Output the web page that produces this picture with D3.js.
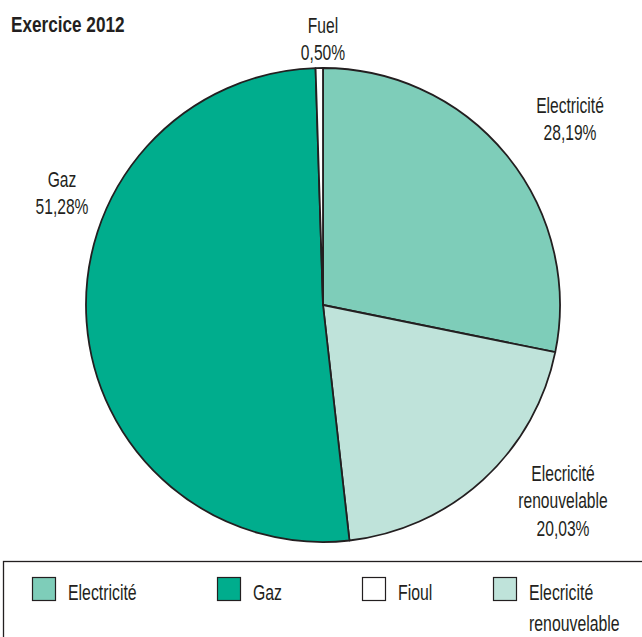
<!DOCTYPE html>
<html><head><meta charset="utf-8">
<script src="https://cdn.jsdelivr.net/npm/d3@7"></script>
<style>
body{margin:0;background:#fff;}
text{font-family:"Liberation Sans","Arial",sans-serif;fill:#231f20;}
</style></head><body>
<svg id="c" width="642" height="637"></svg>
<script>
const categories = ["Electricité", "Elecricité renouvelable", "Gaz", "Fuel"];
const values = [28.19, 20.03, 51.28, 0.50];
const valueLabels = ["28,19%", "20,03%", "51,28%", "0,50%"];
const colors = ["#7ecdb9", "#bfe3da", "#00ad8d", "#ffffff"];
const legendNames = ["Electricité", "Gaz", "Fioul", "Elecricité renouvelable"];
const legendColors = ["#7ecdb9", "#00ad8d", "#ffffff", "#bfe3da"];

const svg = d3.select("#c");
const cx = 323, cy = 305, r = 237;
const SX = 0.71;

function ctext(x, y, lines, anchor, size, lh, sx, bold) {
  const gg = svg.append("g").attr("transform", `translate(${x},${y}) scale(${sx},1)`);
  const t = gg.append("text").attr("text-anchor", anchor).attr("font-size", size);
  if (bold) t.attr("font-weight", "bold");
  lines.forEach((l, k) => t.append("tspan").attr("x", 0).attr("y", k * lh).text(l));
}

ctext(11, 32, ["Exercice 2012"], "start", 22, 0, 0.78, true);

const pie = d3.pie().sort(null).value(d => d)(values);
const arc = d3.arc().innerRadius(0).outerRadius(r);
const g = svg.append("g").attr("transform", `translate(${cx},${cy})`);
g.selectAll("path").data(pie).join("path")
  .attr("d", arc).attr("fill", (d, i) => colors[i])
  .attr("stroke", "#231f20").attr("stroke-width", 1.8).attr("stroke-linejoin", "round");

// labels
const labelPos = [
  {x: 570, y: 113, lines: ["Electricité", valueLabels[0]]},
  {x: 563, y: 481, lines: ["Elecricité", "renouvelable", valueLabels[1]]},
  {x: 62, y: 187, lines: ["Gaz", valueLabels[2]]},
  {x: 323, y: 33, lines: ["Fuel", valueLabels[3]]}
];
labelPos.forEach(p => ctext(p.x, p.y, p.lines, "middle", 22, 27.5, SX, false));

// legend
svg.append("rect").attr("x", 3.5).attr("y", 561.5).attr("width", 700).attr("height", 100)
  .attr("fill", "none").attr("stroke", "#231f20").attr("stroke-width", 1.3);
const lx = [32, 217, 362, 493];
legendNames.forEach((n, i) => {
  svg.append("rect").attr("x", lx[i] + 0.5).attr("y", 577.5).attr("width", 23).attr("height", 23)
    .attr("fill", legendColors[i]).attr("stroke", "#231f20").attr("stroke-width", 1.2);
  const words = i === 3 ? ["Elecricité", "renouvelable"] : [n];
  ctext(lx[i] + 36, 600, words, "start", 22, 31, 0.72, false);
});
</script></body></html>
